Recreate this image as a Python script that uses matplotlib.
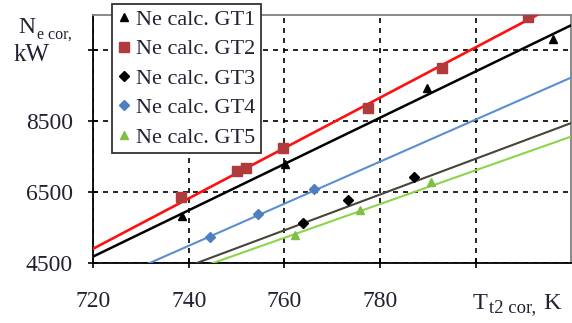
import matplotlib
matplotlib.use('Agg')
import matplotlib.pyplot as plt

plt.rcParams['font.family'] = 'Liberation Serif'
TEXT_COLOUR = '#222233'

# measured points (T_t2 cor, K ; N_e cor, kW)
gt1_t = [738.7, 760.1, 789.8, 816.2]
gt1_n = [5823, 7300, 9443, 10834]
gt2_t = [738.3, 750.0, 752.0, 759.7, 777.5, 792.9, 811.0]
gt2_n = [6357, 7109, 7177, 7757, 8880, 10006, 11450]
gt3_t = [763.8, 773.4, 787.1]
gt3_n = [5634, 6280, 6920]
gt4_t = [744.5, 754.5, 766.2]
gt4_n = [5234, 5871, 6586]
gt5_t = [762.2, 775.8, 790.6]
gt5_n = [5300, 5986, 6777]

# fitted lines, values at the two ends of the axis
fit_t = [720, 820]
fit_gt1 = [4680, 11214]
fit_gt2 = [4900, 12010]
fit_gt3 = [3404, 8452]
fit_gt4 = [3797, 9737]
fit_gt5 = [3303, 8071]

x_ticks = [720, 740, 760, 780, 800]
x_labels = ['720', '740', '760', '780', '']
y_ticks = [4500, 6500, 8500, 10500]
y_labels = ['4500', '6500', '8500', '']

fig = plt.figure(figsize=(5.72, 3.23), dpi=100)
ax = fig.add_axes([0.1626, 0.1858, 0.8364, 0.7678])

ax.plot(fit_t, fit_gt2, color='#FF1010', lw=1.9, zorder=3)
ax.plot(fit_t, fit_gt1, color='black', lw=1.8, zorder=3)
ax.plot(fit_t, fit_gt4, color='#5B8FD0', lw=1.5, zorder=3)
ax.plot(fit_t, fit_gt3, color='#45453A', lw=1.5, zorder=3)
ax.plot(fit_t, fit_gt5, color='#8CD44A', lw=1.5, zorder=3)

ax.plot(gt1_t, gt1_n, '^', color='black', ms=6, ls='none', label='Ne calc. GT1', zorder=4)
ax.plot(gt2_t, gt2_n, 's', color='#B03A3C', ms=7, ls='none', label='Ne calc. GT2', zorder=4)
ax.plot(gt3_t, gt3_n, 'D', color='black', ms=5, ls='none', label='Ne calc. GT3', zorder=4)
ax.plot(gt4_t, gt4_n, 'D', color='#4F7FC0', ms=5, ls='none', label='Ne calc. GT4', zorder=4)
ax.plot(gt5_t, gt5_n, '^', color='#7FBF45', ms=6, ls='none', label='Ne calc. GT5', zorder=4)

ax.set_xlim(720, 820)
ax.set_ylim(4500, 11500)
ax.set_xticks(x_ticks)
ax.set_xticklabels(x_labels)
ax.set_yticks(y_ticks)
ax.set_yticklabels(y_labels)
ax.tick_params(direction='inout', length=7, width=1.2, labelsize=17,
               labelcolor=TEXT_COLOUR)
ax.tick_params(axis='x', pad=17)
ax.tick_params(axis='y', pad=11)
ax.grid(True, color='black', ls=(0, (3, 3)), lw=1.2)
ax.set_axisbelow(True)

for side in ['left', 'bottom']:
    ax.spines[side].set_color('black')
    ax.spines[side].set_linewidth(1.3)
for side in ['top', 'right']:
    ax.spines[side].set_color('#808080')
    ax.spines[side].set_linewidth(1.3)

leg = ax.legend(loc='upper left', bbox_to_anchor=(0.039, 1.045), fontsize=16,
                frameon=True, fancybox=False, framealpha=1, edgecolor='#333333',
                handlelength=0.6, handletextpad=0.25, labelspacing=0.4,
                borderpad=0.25, borderaxespad=0)
leg.get_frame().set_linewidth(1.3)
leg.set_zorder(10)
for t in leg.get_texts():
    t.set_color(TEXT_COLOUR)

# axis titles in the corners
fig.text(18 / 572, 1 - 33 / 323, 'N', fontsize=17, color=TEXT_COLOUR)
fig.text(37 / 572, 1 - 39 / 323, 'e cor,', fontsize=11.5, color=TEXT_COLOUR)
fig.text(14 / 572, 1 - 61 / 323, 'kW', fontsize=18, color=TEXT_COLOUR)
fig.text(473 / 572, 1 - 309 / 323, 'T', fontsize=17.5, color=TEXT_COLOUR)
fig.text(489 / 572, 1 - 312 / 323, 't2 cor,', fontsize=13.5, color=TEXT_COLOUR)
fig.text(543 / 572, 1 - 309 / 323, 'K', fontsize=17.5, color=TEXT_COLOUR)

fig.savefig('out.png', dpi=100)
